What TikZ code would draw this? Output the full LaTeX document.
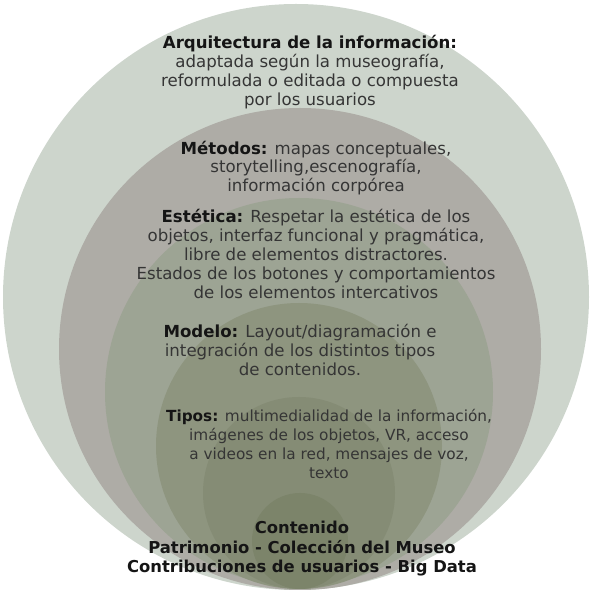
\documentclass[tikz,border=0pt]{standalone}
\usepackage{fontspec}
\setmainfont{DejaVu Sans}
\definecolor{ringA}{HTML}{CDD5CC}
\definecolor{ringB}{HTML}{AEACA6}
\definecolor{ringC}{HTML}{9DA494}
\definecolor{ringD}{HTML}{8E957F}
\definecolor{ringE}{HTML}{858C75}
\definecolor{ringF}{HTML}{7C846A}
\definecolor{txtgray}{HTML}{353535}
\definecolor{hdblack}{HTML}{151515}
\newcommand{\hd}[1]{\textbf{\color{hdblack}#1}}
\tikzset{
  blk/.style={align=center,text=txtgray,inner sep=0pt,
    font=\fontsize{16.6}{18.8}\selectfont},
}
\begin{document}
\begin{tikzpicture}[x=1pt,y=-1pt]
	\useasboundingbox(0,0)rectangle(595,593);
	% anillos, todos tangentes abajo
	\fill[ringA](296,297)coordinate(o1)circle(293pt);
	\fill[ringB](300,349)coordinate(o2)circle(241pt);
	\fill[ringC](299,392)coordinate(o3)circle(194pt);
	\fill[ringD](299,446)coordinate(o4)circle(143pt);
	\fill[ringE](299,493)coordinate(o5)circle(96pt);
	\fill[ringF](300,541)coordinate(o6)circle(48pt);
	% textos
	\node[blk](arq)at(310,72){\hd{Arquitectura de la información:}\\adaptada según la museografía,\\reformulada o editada o compuesta\\por los usuarios};
	\node[blk](met)at(316,168){\hd{Métodos:} mapas conceptuales,\\storytelling,escenografía,\\información corpórea};
	\node[blk](est)at(316,254){\hd{Estética:} Respetar la estética de los\\objetos, interfaz funcional y pragmática,\\libre de elementos distractores.\\Estados de los botones y comportamientos\\de los elementos intercativos};
	\node[blk](mod)at(300,350){\hd{Modelo:} Layout/diagramación e\\integración de los distintos tipos\\de contenidos.};
	\node[blk,font=\fontsize{15.3}{18.8}\selectfont](tip)at(329,444){\hd{Tipos:} multimedialidad de la información,\\imágenes de los objetos, VR, acceso\\a videos en la red, mensajes de voz,\\texto};
	\node[blk,font=\bfseries\fontsize{16.4}{19.5}\selectfont,text=hdblack](con)at(302,549){Contenido\\Patrimonio - Colección del Museo\\Contribuciones de usuarios - Big Data};
\end{tikzpicture}
\end{document}
